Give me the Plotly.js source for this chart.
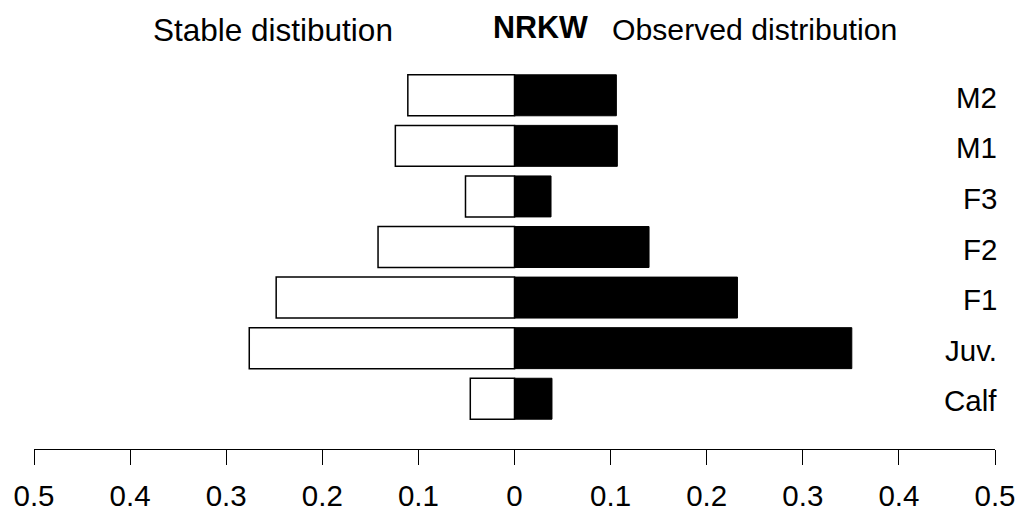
<!DOCTYPE html>
<html>
<head>
<meta charset="utf-8">
<script src="https://cdn.plot.ly/plotly-3.0.1.min.js"></script>
<style>html,body{margin:0;padding:0;background:#fff;}#chart{width:1026px;height:515px;}</style>
</head>
<body>
<div id="chart"></div>
<script>
// Stage classes, bottom to top
var stages = ['Calf', 'Juv.', 'F1', 'F2', 'F3', 'M1', 'M2'];
// Stable (expected) stage distribution – drawn to the left
var stableDist = [0.046, 0.276, 0.248, 0.142, 0.051, 0.124, 0.111];
// Observed stage distribution – drawn to the right
var observedDist = [0.039, 0.351, 0.232, 0.140, 0.038, 0.107, 0.106];
// Axis ticks (absolute values on both sides)
var tickValues = [-0.5, -0.4, -0.3, -0.2, -0.1, 0, 0.1, 0.2, 0.3, 0.4, 0.5];
var tickLabels = ['0.5', '0.4', '0.3', '0.2', '0.1', '0', '0.1', '0.2', '0.3', '0.4', '0.5'];

var FONT = 'Liberation Sans, Arial, sans-serif';

var traces = [
  {
    type: 'bar', orientation: 'h', name: 'Stable distibution',
    y: stages, x: stableDist.map(function (v) { return -v; }),
    marker: { color: '#ffffff', line: { color: '#000000', width: 1.5 } },
    hoverinfo: 'skip'
  },
  {
    type: 'bar', orientation: 'h', name: 'Observed distribution',
    y: stages, x: observedDist,
    marker: { color: '#000000', line: { color: '#000000', width: 1 } },
    hoverinfo: 'skip'
  }
];

var annotations = [
  { text: 'Stable distibution', xref: 'paper', yref: 'paper', x: 0.2487, y: 1.106,
    xanchor: 'center', yanchor: 'middle', showarrow: false, font: { family: FONT, size: 31.5, color: '#000' } },
  { text: '<b>NRKW</b>', xref: 'paper', yref: 'paper', x: 0.527, y: 1.114,
    xanchor: 'center', yanchor: 'middle', showarrow: false, font: { family: FONT, size: 30.5, color: '#000' } },
  { text: 'Observed distribution', xref: 'paper', yref: 'paper', x: 0.750, y: 1.106,
    xanchor: 'center', yanchor: 'middle', showarrow: false, font: { family: FONT, size: 30.2, color: '#000' } }
];
stages.forEach(function (s) {
  annotations.push({ text: s, xref: 'paper', yref: 'y', x: 1, y: s, xanchor: 'right', yanchor: 'middle',
    xshift: 4, yshift: -2, showarrow: false, font: { family: FONT, size: 29.5, color: '#000' } });
});

var layout = {
  width: 1026, height: 515,
  margin: { l: 34, r: 31, t: 70, b: 66 },
  paper_bgcolor: '#ffffff', plot_bgcolor: '#ffffff',
  barmode: 'relative', bargap: 0.19,
  showlegend: false,
  font: { family: FONT, color: '#000' },
  xaxis: {
    range: [-0.5, 0.5], showgrid: false, zeroline: false,
    showline: true, linecolor: '#000', linewidth: 1,
    ticks: 'outside', ticklen: 15, tickwidth: 1, tickcolor: '#000',
    tickmode: 'array', tickvals: tickValues, ticktext: tickLabels,
    tickfont: { family: FONT, size: 29.5, color: '#000' },
    ticklabelstandoff: 6
  },
  yaxis: {
    type: 'category', categoryorder: 'array', categoryarray: stages,
    range: [-0.994, 6.5], showgrid: false, zeroline: false, showline: false,
    showticklabels: false, ticks: ''
  },
  annotations: annotations
};

Plotly.newPlot('chart', traces, layout, { displayModeBar: false, staticPlot: true });
</script>
</body>
</html>
